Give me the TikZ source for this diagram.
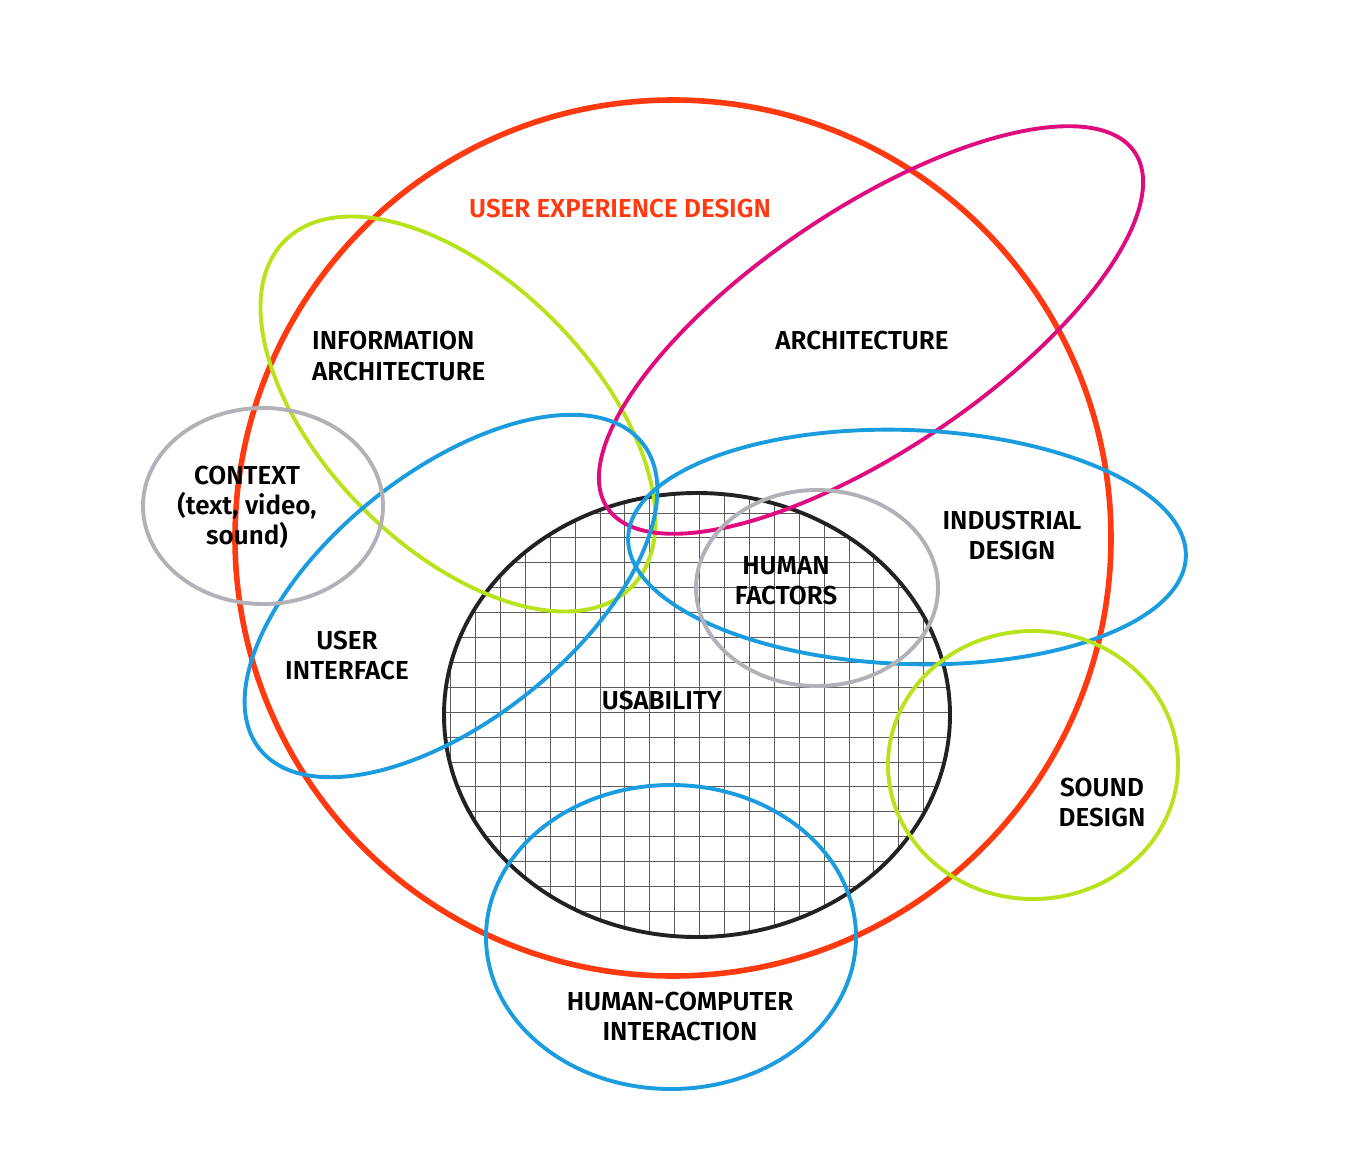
\documentclass[tikz,border=0pt]{standalone}
\usepackage{fontspec}
\setmainfont{Fira Sans}[UprightFont=* SemiBold]
\usetikzlibrary{calc}
\definecolor{uxred}{HTML}{FF3A10}
\definecolor{uxmag}{HTML}{DF0C7F}
\definecolor{uxgreen}{HTML}{B8E21C}
\definecolor{uxblue}{HTML}{1A9CDF}
\definecolor{uxgray}{HTML}{B2B1B7}
\definecolor{uxblack}{HTML}{222222}
\definecolor{uxgrid}{HTML}{5C5C5C}
\tikzset{
  ring/.style={line width=3.9pt},
  lab/.style={align=center, font=\fontsize{26}{30}\selectfont, text=black, inner sep=0pt},
}
\begin{document}
\begin{tikzpicture}[x=1pt,y=1pt]
\useasboundingbox (0,0) rectangle (1354,-1172);
% grid inside usability
\begin{scope}
  \clip (697,-715) ellipse [x radius=253, y radius=222];
  \foreach \k in {-2,...,22} {
    \draw[uxgrid, line width=0.95pt] ({475.5+24.9*\k},-480) -- ({475.5+24.9*\k},-950);
  }
  \foreach \k in {-2,...,20} {
    \draw[uxgrid, line width=0.95pt] (430,{-513-24.9*\k}) -- (960,{-513-24.9*\k});
  }
\end{scope}
% ellipses
\draw[ring, uxblack] (697,-715) ellipse [x radius=253, y radius=222];
\draw[line width=5.6pt, uxred] (673,-538) circle [radius=438];
\draw[ring, uxgreen, rotate around={-45:(458,-414)}] (458,-414) ellipse [x radius=245, y radius=134];
\draw[ring, uxmag, rotate around={34:(871,-330)}] (871,-330) ellipse [x radius=318, y radius=120];
\draw[ring, uxblue, rotate around={38.7:(451,-596)}] (451,-596) ellipse [x radius=245, y radius=124];
\draw[ring, uxgray] (263,-506) ellipse [x radius=120, y radius=98];
\draw[ring, uxblue, rotate around={-2:(907,-547)}] (907,-547) ellipse [x radius=279, y radius=117];
\draw[ring, uxgray] (817,-588) ellipse [x radius=121, y radius=98];
\draw[ring, uxgreen] (1033,-765) ellipse [x radius=145, y radius=134];
\draw[ring, uxblue] (671,-937) ellipse [x radius=185, y radius=152];
% labels
\node[lab, text=uxred] (ux) at (620,-209) {USER EXPERIENCE DESIGN};
\node[lab, align=left, anchor=west] (ia) at (312,-356) {INFORMATION\\ARCHITECTURE};
\node[lab] (arch) at (862,-341) {ARCHITECTURE};
\node[lab] (ctx) at (247,-507) {CONTEXT\\(text, video,\\sound)};
\node[lab] (ind) at (1012,-535) {INDUSTRIAL\\DESIGN};
\node[lab] (hf) at (786,-581) {HUMAN\\FACTORS};
\node[lab] (ui) at (347,-655) {USER\\INTERFACE};
\node[lab] (us) at (662,-700) {USABILITY};
\node[lab] (sd) at (1102,-802) {SOUND\\DESIGN};
\node[lab] (hci) at (680,-1016) {HUMAN-COMPUTER\\INTERACTION};
\end{tikzpicture}
\end{document}
